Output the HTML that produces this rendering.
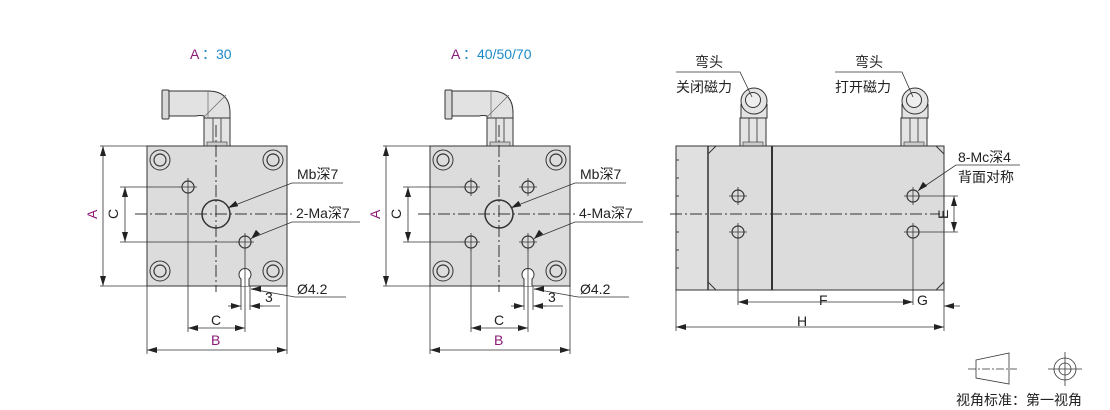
<!DOCTYPE html>
<html><head><meta charset="utf-8"><style>
html,body{margin:0;padding:0;background:#fff;}
svg{display:block;}
text{font-family:"Liberation Sans","Noto Sans CJK SC",sans-serif;font-size:14px;fill:#222;}
.p{fill:#8b1a78;}
.b{fill:#1d8ac8;}
</style></head><body>
<svg width="1110" height="410" viewBox="0 0 1110 410" xmlns="http://www.w3.org/2000/svg">
<defs>
<marker id="ar" viewBox="0 0 10 6" refX="10" refY="3" markerWidth="10" markerHeight="6" orient="auto-start-reverse" markerUnits="userSpaceOnUse"><path d="M0,0 L10,3 L0,6 z" fill="#222"/></marker>
<g id="ch"><circle r="10" fill="none" stroke="#333" stroke-width="1"/><circle r="6" fill="none" stroke="#333" stroke-width="1.2"/></g>
<g id="sh"><circle r="6" fill="none" stroke="#333" stroke-width="1.2"/><line x1="-9" y1="0" x2="9" y2="0" stroke="#333" stroke-width="0.8"/><line x1="0" y1="-9" x2="0" y2="9" stroke="#333" stroke-width="0.8"/></g>
<g id="fit">
<rect x="-13" y="-28" width="26" height="28" fill="#e4e4e4" stroke="#333"/>
<line x1="-4" y1="-28" x2="-4" y2="0" stroke="#555"/><line x1="4" y1="-28" x2="4" y2="0" stroke="#555"/>
<rect x="-10" y="-4" width="20" height="4" fill="#ccc" stroke="#333" stroke-width="0.6"/>
</g>
<g id="elb">
<path d="M0,0 h40 q22,0 22,22 v5 h-26 v-2 q-4,-1 -8,0 h-28z" fill="#e2e2e2" stroke="#333"/>
<line x1="40" y1="0" x2="40" y2="26" stroke="#666" stroke-width="0.7"/>
<line x1="36" y1="26" x2="58" y2="4" stroke="#666" stroke-width="0.7"/>
<rect x="-6" y="-1" width="7" height="29" rx="1" fill="#d8d8d8" stroke="#333"/>
</g>
<g id="side">
<path d="M-13,3 v14 h26 v-14" fill="#e4e4e4" stroke="#333"/>
<circle r="13" fill="#e4e4e4" stroke="#333"/>
<circle cx="-1" cy="-1" r="7.5" fill="#eee" stroke="#333"/>
</g>
</defs>

<!-- ===== View 1 ===== -->
<text x="190" y="59" class="p">A</text><text x="202" y="59" class="b">：30</text>
<g>
<use href="#elb" x="168" y="91"/>
<g transform="translate(217,146)"><use href="#fit"/></g>
<rect x="147" y="146" width="140" height="140" fill="#dcdcdc" stroke="#333"/>
<use href="#ch" x="160" y="160"/><use href="#ch" x="273" y="160"/><use href="#ch" x="160" y="271"/><use href="#ch" x="273" y="271"/>
<circle cx="216" cy="214" r="14" fill="none" stroke="#333" stroke-width="1.5"/>
<use href="#sh" x="188" y="187"/><use href="#sh" x="245" y="242"/>
<path d="M241,286 v-7 a6,6 0 1,1 8,0 v7" fill="#fff" stroke="#333"/>
<line x1="135" y1="214" x2="295" y2="214" stroke="#333" stroke-dasharray="12,3,2,3"/>
<line x1="216" y1="125" x2="216" y2="292" stroke="#333" stroke-dasharray="12,3,2,3"/>
</g>
<g stroke="#333" stroke-width="0.8" fill="none">
<line x1="100" y1="146" x2="147" y2="146"/><line x1="100" y1="286" x2="147" y2="286"/>
<line x1="103" y1="146" x2="103" y2="286" marker-start="url(#ar)" marker-end="url(#ar)"/>
<line x1="120" y1="187" x2="180" y2="187"/><line x1="120" y1="242" x2="237" y2="242"/>
<line x1="125" y1="187" x2="125" y2="242" marker-start="url(#ar)" marker-end="url(#ar)"/>
<line x1="147" y1="286" x2="147" y2="354"/><line x1="287" y1="286" x2="287" y2="354"/>
<line x1="147" y1="350" x2="287" y2="350" marker-start="url(#ar)" marker-end="url(#ar)"/>
<line x1="188" y1="196" x2="188" y2="332"/><line x1="245" y1="250" x2="245" y2="332"/>
<line x1="188" y1="328" x2="245" y2="328" marker-start="url(#ar)" marker-end="url(#ar)"/>
<line x1="241" y1="286" x2="241" y2="310"/><line x1="250" y1="286" x2="250" y2="310"/>
<line x1="228" y1="306" x2="241" y2="306" marker-end="url(#ar)"/><line x1="263" y1="306" x2="250" y2="306" marker-end="url(#ar)"/>
<line x1="258" y1="306" x2="280" y2="306"/>
<polyline points="230,207 292,183 343,183" /><line x1="230" y1="207" x2="228" y2="208" marker-end="url(#ar)"/>
<polyline points="252,238 292,222 360,222"/><line x1="252" y1="238" x2="251" y2="239" marker-end="url(#ar)"/>
<polyline points="251,289 295,297 346,297"/><line x1="252" y1="289" x2="251" y2="289" marker-end="url(#ar)"/>
</g>
<text x="92" y="214" class="p" transform="rotate(-90 97 214)">A</text>
<text x="113" y="214" transform="rotate(-90 118 214)">C</text>
<text x="211" y="345" class="p">B</text>
<text x="211" y="325">C</text>
<text x="265" y="302">3</text>
<text x="297" y="179">Mb深7</text>
<text x="296" y="218">2-Ma深7</text>
<text x="297" y="294">Ø4.2</text>

<!-- ===== View 2 ===== -->
<text x="451" y="59" class="p">A</text><text x="463" y="59" class="b">：40/50/70</text>
<g>
<use href="#elb" x="451" y="91"/>
<g transform="translate(500,146)"><use href="#fit"/></g>
<rect x="430" y="146" width="140" height="140" fill="#dcdcdc" stroke="#333"/>
<use href="#ch" x="443" y="160"/><use href="#ch" x="556" y="160"/><use href="#ch" x="443" y="271"/><use href="#ch" x="556" y="271"/>
<circle cx="499" cy="214" r="14" fill="none" stroke="#333" stroke-width="1.5"/>
<use href="#sh" x="471" y="187"/><use href="#sh" x="528" y="187"/><use href="#sh" x="471" y="242"/><use href="#sh" x="528" y="242"/>
<path d="M524,286 v-7 a6,6 0 1,1 8,0 v7" fill="#fff" stroke="#333"/>
<line x1="418" y1="214" x2="578" y2="214" stroke="#333" stroke-dasharray="12,3,2,3"/>
<line x1="499" y1="125" x2="499" y2="292" stroke="#333" stroke-dasharray="12,3,2,3"/>
</g>
<g stroke="#333" stroke-width="0.8" fill="none">
<line x1="383" y1="146" x2="430" y2="146"/><line x1="383" y1="286" x2="430" y2="286"/>
<line x1="386" y1="146" x2="386" y2="286" marker-start="url(#ar)" marker-end="url(#ar)"/>
<line x1="403" y1="187" x2="463" y2="187"/><line x1="403" y1="242" x2="463" y2="242"/>
<line x1="408" y1="187" x2="408" y2="242" marker-start="url(#ar)" marker-end="url(#ar)"/>
<line x1="430" y1="286" x2="430" y2="354"/><line x1="570" y1="286" x2="570" y2="354"/>
<line x1="430" y1="350" x2="570" y2="350" marker-start="url(#ar)" marker-end="url(#ar)"/>
<line x1="471" y1="250" x2="471" y2="332"/><line x1="528" y1="250" x2="528" y2="332"/>
<line x1="471" y1="328" x2="528" y2="328" marker-start="url(#ar)" marker-end="url(#ar)"/>
<line x1="524" y1="286" x2="524" y2="310"/><line x1="533" y1="286" x2="533" y2="310"/>
<line x1="511" y1="306" x2="524" y2="306" marker-end="url(#ar)"/><line x1="546" y1="306" x2="533" y2="306" marker-end="url(#ar)"/>
<line x1="541" y1="306" x2="563" y2="306"/>
<polyline points="513,207 575,183 626,183"/><line x1="513" y1="207" x2="511" y2="208" marker-end="url(#ar)"/>
<polyline points="535,238 575,222 643,222"/><line x1="535" y1="238" x2="534" y2="239" marker-end="url(#ar)"/>
<polyline points="534,289 578,297 629,297"/><line x1="535" y1="289" x2="534" y2="289" marker-end="url(#ar)"/>
</g>
<text x="375" y="214" class="p" transform="rotate(-90 380 214)">A</text>
<text x="396" y="214" transform="rotate(-90 401 214)">C</text>
<text x="494" y="345" class="p">B</text>
<text x="494" y="325">C</text>
<text x="548" y="302">3</text>
<text x="580" y="179">Mb深7</text>
<text x="579" y="218">4-Ma深7</text>
<text x="580" y="294">Ø4.2</text>

<!-- ===== View 3 ===== -->
<g>
<g transform="translate(753,146)"><use href="#fit"/></g>
<use href="#side" x="754" y="101"/>
<g transform="translate(914,146)"><use href="#fit"/></g>
<use href="#side" x="915" y="101"/>
<rect x="676" y="146" width="268" height="144" fill="#dcdcdc" stroke="#333"/>
<rect x="676" y="146" width="32" height="144" fill="#e0e0e0" stroke="#333"/>
<g stroke="#555" stroke-width="1.2"><line x1="676" y1="160" x2="679" y2="160"/><line x1="676" y1="178" x2="679" y2="178"/><line x1="676" y1="196" x2="679" y2="196"/><line x1="676" y1="232" x2="679" y2="232"/><line x1="676" y1="250" x2="679" y2="250"/><line x1="676" y1="268" x2="679" y2="268"/></g>
<line x1="708" y1="146" x2="708" y2="290" stroke="#333" stroke-width="1.5"/>
<line x1="772" y1="146" x2="772" y2="290" stroke="#333" stroke-width="2"/>
<line x1="708" y1="154" x2="716" y2="146" stroke="#333"/><line x1="708" y1="282" x2="716" y2="290" stroke="#333"/>
<line x1="936" y1="146" x2="944" y2="154" stroke="#333"/><line x1="936" y1="290" x2="944" y2="282" stroke="#333"/>
<use href="#sh" x="738" y="196"/><use href="#sh" x="738" y="232"/><use href="#sh" x="913" y="196"/><use href="#sh" x="913" y="232"/>
<line x1="670" y1="214" x2="940" y2="214" stroke="#333" stroke-dasharray="12,3,2,3"/>
</g>
<g stroke="#333" stroke-width="0.8" fill="none">
<line x1="922" y1="196" x2="958" y2="196"/><line x1="922" y1="232" x2="958" y2="232"/>
<line x1="954" y1="196" x2="954" y2="232" marker-start="url(#ar)" marker-end="url(#ar)"/>
<line x1="738" y1="241" x2="738" y2="305"/><line x1="913" y1="241" x2="913" y2="305"/>
<line x1="944" y1="290" x2="944" y2="331"/><line x1="676" y1="290" x2="676" y2="331"/>
<line x1="738" y1="302" x2="913" y2="302" marker-start="url(#ar)" marker-end="url(#ar)"/>
<line x1="960" y1="306" x2="944" y2="306" marker-end="url(#ar)"/>
<line x1="676" y1="327" x2="944" y2="327" marker-start="url(#ar)" marker-end="url(#ar)"/>
<polyline points="919,190 956,165 1020,165"/><line x1="919" y1="190" x2="918" y2="191" marker-end="url(#ar)"/>
<polyline points="676,72 740,72 752,97"/>
<polyline points="835,72 902,72 913,97"/>
</g>
<text x="938" y="219" transform="rotate(-90 943 214)">E</text>
<text x="819" y="305">F</text>
<text x="917" y="305">G</text>
<text x="797" y="326">H</text>
<text x="695" y="67">弯头</text>
<text x="676" y="92">关闭磁力</text>
<text x="855" y="67">弯头</text>
<text x="835" y="92">打开磁力</text>
<text x="958" y="162">8-Mc深4</text>
<text x="958" y="182">背面对称</text>

<!-- legend -->
<g stroke="#333" stroke-width="0.8" fill="none">
<polygon points="976,360 1009,353 1009,384 976,378"/>
<line x1="968" y1="369" x2="1017" y2="369" stroke-dasharray="8,2,2,2"/>
<circle cx="1065" cy="369" r="11"/><circle cx="1065" cy="369" r="6"/>
<line x1="1048" y1="369" x2="1082" y2="369"/><line x1="1065" y1="352" x2="1065" y2="386"/>
</g>
<text x="956" y="405">视角标准：第一视角</text>
</svg>
</body></html>
